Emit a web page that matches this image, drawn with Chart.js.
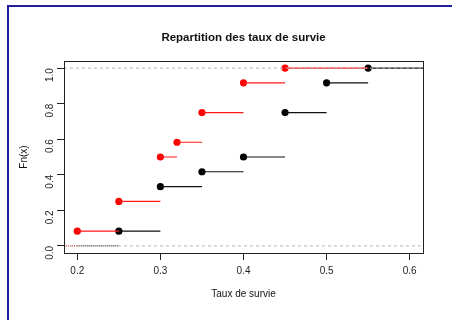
<!DOCTYPE html>
<html>
<head>
<meta charset="utf-8">
<script src="https://cdn.jsdelivr.net/npm/chart.js@4/dist/chart.umd.min.js"></script>
<style>
  html, body { margin: 0; padding: 0; background: #fff; }
  #wrap { width: 452px; height: 320px; }
</style>
</head>
<body>
<div id="wrap"><canvas id="ecdfChart" width="452" height="320"></canvas></div>
<script>
// jumps of the two empirical distribution functions
const redJumps = [0.2, 0.25, 0.3, 0.32, 0.35, 0.4, 0.45];
const redFn = [0.083, 0.25, 0.5, 0.583, 0.75, 0.917, 1.0];
const blackJumps = [0.25, 0.3, 0.35, 0.4, 0.45, 0.5, 0.55];
const blackFn = [0.083, 0.333, 0.417, 0.5, 0.75, 0.917, 1.0];

const xTicks = [0.2, 0.3, 0.4, 0.5, 0.6];
const yTicks = [0.0, 0.2, 0.4, 0.6, 0.8, 1.0];
const xMin = 0.184, xMax = 0.616;
const yMin = -0.04, yMax = 1.04;

const FONT = "'Liberation Sans', Arial, Helvetica, sans-serif";

// horizontal steps: from each jump to the next one, broken with nulls
function steps(jumps, fn, endX) {
  const pts = [];
  for (let i = 0; i < jumps.length; i++) {
    const next = i + 1 < jumps.length ? jumps[i + 1] : endX;
    pts.push({ x: jumps[i], y: fn[i] });
    pts.push({ x: next, y: fn[i] });
    pts.push({ x: next, y: null });
  }
  return pts;
}

function points(jumps, fn) {
  return jumps.map((x, i) => ({ x: x, y: fn[i] }));
}

const frame = {
  id: "frame",
  beforeDraw(chart) {
    const c = chart.ctx;
    c.save();
    c.fillStyle = "#fff";
    c.fillRect(0, 0, chart.width, chart.height);
    c.strokeStyle = "#1f1f9c";
    c.lineWidth = 2;
    c.beginPath();
    c.moveTo(8, chart.height + 2);
    c.lineTo(8, 6);
    c.lineTo(chart.width + 2, 6);
    c.stroke();
    c.restore();
  },
  afterDraw(chart) {
    const c = chart.ctx;
    const a = chart.chartArea;
    c.save();
    c.strokeStyle = "#222";
    c.lineWidth = 1;
    c.strokeRect(Math.round(a.left) + 0.5, Math.round(a.top) + 0.5,
      Math.round(a.right - a.left), Math.round(a.bottom - a.top));

    c.fillStyle = "#111";
    c.textAlign = "center";
    c.textBaseline = "middle";
    c.font = "bold 11.5px " + FONT;
    c.fillText("Repartition des taux de survie", (a.left + a.right) / 2, 38);
    c.font = "10px " + FONT;
    c.fillText("Taux de survie", (a.left + a.right) / 2, 294);
    c.translate(24, (a.top + a.bottom) / 2);
    c.rotate(-Math.PI / 2);
    c.fillText("Fn(x)", 0, 0);
    c.restore();
  }
};

const ctx = document.getElementById("ecdfChart").getContext("2d");
new Chart(ctx, {
  type: "scatter",
  data: {
    datasets: [
      {
        data: [{ x: xMin, y: 0 }, { x: xMax, y: 0 }, { x: xMax, y: null },
               { x: xMin, y: 1 }, { x: xMax, y: 1 }],
        showLine: true, spanGaps: false, pointRadius: 0,
        borderColor: "#b3b3b3", borderWidth: 1, borderDash: [3, 3]
      },
      {
        data: [{ x: xMin, y: 0 }, { x: redJumps[0], y: 0 }],
        showLine: true, pointRadius: 0,
        borderColor: "#ff0000", borderWidth: 1, borderDash: [1, 1]
      },
      {
        data: [{ x: redJumps[0], y: 0 }, { x: blackJumps[0], y: 0 }],
        showLine: true, pointRadius: 0,
        borderColor: "#000", borderWidth: 1, borderDash: [1, 1]
      },
      {
        data: steps(redJumps, redFn, blackJumps[blackJumps.length - 1]),
        showLine: true, spanGaps: false, pointRadius: 0,
        borderColor: "#ff1a1a", borderWidth: 1.2
      },
      {
        data: steps(blackJumps, blackFn, xMax),
        showLine: true, spanGaps: false, pointRadius: 0,
        borderColor: "#111", borderWidth: 1.2
      },
      {
        data: points(redJumps, redFn),
        pointRadius: 3.6, pointBackgroundColor: "#ff0000", pointBorderWidth: 0
      },
      {
        data: points(blackJumps, blackFn),
        pointRadius: 3.6, pointBackgroundColor: "#000", pointBorderWidth: 0
      }
    ]
  },
  options: {
    responsive: false,
    animation: false,
    events: [],
    layout: { padding: { top: 61, right: 29, left: 0, bottom: 0 } },
    plugins: {
      legend: { display: false },
      tooltip: { enabled: false },
      title: { display: false }
    },
    scales: {
      x: {
        type: "linear",
        min: xMin, max: xMax,
        afterBuildTicks: s => { s.ticks = xTicks.map(v => ({ value: v })); },
        afterFit: s => { s.height = 67; },
        grid: { drawOnChartArea: false, drawTicks: true, tickLength: 7, tickColor: "#222" },
        border: { display: false },
        ticks: {
          font: { family: FONT, size: 10 }, color: "#222",
          padding: 5, maxRotation: 0, autoSkip: false,
          callback: v => v.toFixed(1)
        }
      },
      y: {
        type: "linear",
        min: yMin, max: yMax,
        afterBuildTicks: s => { s.ticks = yTicks.map(v => ({ value: v })); },
        afterFit: s => { s.width = 64; },
        grid: { drawOnChartArea: false, drawTicks: true, tickLength: 7, tickColor: "#222" },
        border: { display: false },
        ticks: {
          font: { family: FONT, size: 10 }, color: "#222",
          padding: 7, minRotation: 90, maxRotation: 90, autoSkip: false,
          callback: v => v.toFixed(1)
        }
      }
    }
  },
  plugins: [frame]
});
</script>
</body>
</html>
